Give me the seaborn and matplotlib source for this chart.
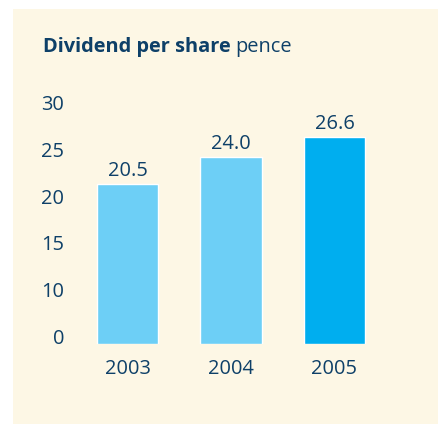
import matplotlib
matplotlib.use("Agg")
import matplotlib.pyplot as plt
import matplotlib.patches as mpatches
import seaborn as sns

years = ["2003", "2004", "2005"]
dividend = [20.5, 24.0, 26.6]
bar_colors = ["#6dcff6", "#6dcff6", "#00aeef"]
# the source chart spaces its axis labels evenly, with no "5"
y_tick_pos = [0, 6, 12, 18, 24, 30]
y_tick_labels = ["0", "10", "15", "20", "25", "30"]

text_color = "#0e4068"
panel_color = "#fdf7e5"

sns.set_style("white")
plt.rcParams["font.family"] = ["Open Sans", "DejaVu Sans"]

W, H = 439, 424
fig = plt.figure(figsize=(W / 100, H / 100), dpi=100)
fig.patch.set_facecolor("white")

# cream panel behind everything
fig.patches.append(mpatches.Rectangle((13 / W, 0), 1 - 13 / W, (H - 9) / H,
                                      transform=fig.transFigure, facecolor=panel_color,
                                      edgecolor="none", zorder=-1))

ax = fig.add_axes([70 / W, (H - 344) / H, 360 / W, (344 - 90) / H])
ax.set_facecolor("none")

sns.barplot(x=years, y=dividend, hue=years, palette=bar_colors, legend=False,
            width=0.59, saturation=1, ax=ax)

for c in ax.containers:
    ax.bar_label(c, fmt="%.1f", padding=2, fontsize=14.4, color=text_color)

ax.set_xlim((70 - 127.5) / 103.5, (430 - 127.5) / 103.5)
ax.set_ylim(0, (344 - 90) / 7.8)
ax.set_yticks(y_tick_pos)
ax.set_yticklabels(y_tick_labels)
for lab in ax.get_yticklabels():
    lab.set_va("baseline")
ax.tick_params(axis="y", length=0, pad=4, labelsize=14.4, labelcolor=text_color)
ax.tick_params(axis="x", length=0, pad=11, labelsize=14.4, labelcolor=text_color)
ax.set_xlabel("")
ax.set_ylabel("")
sns.despine(ax=ax, left=True, bottom=True)

# title: bold part followed by regular "pence"
t1 = fig.text(43 / W, (H - 52) / H, "Dividend per share", fontsize=14.4,
              fontweight="bold", color=text_color, va="baseline", ha="left")
renderer = fig.canvas.get_renderer()
bb = t1.get_window_extent(renderer=renderer)
fig.text(bb.x1 / W + 5 / W, (H - 52) / H, "pence", fontsize=14.4,
         color=text_color, va="baseline", ha="left")

fig.savefig("out.png", dpi=100, facecolor="white")
